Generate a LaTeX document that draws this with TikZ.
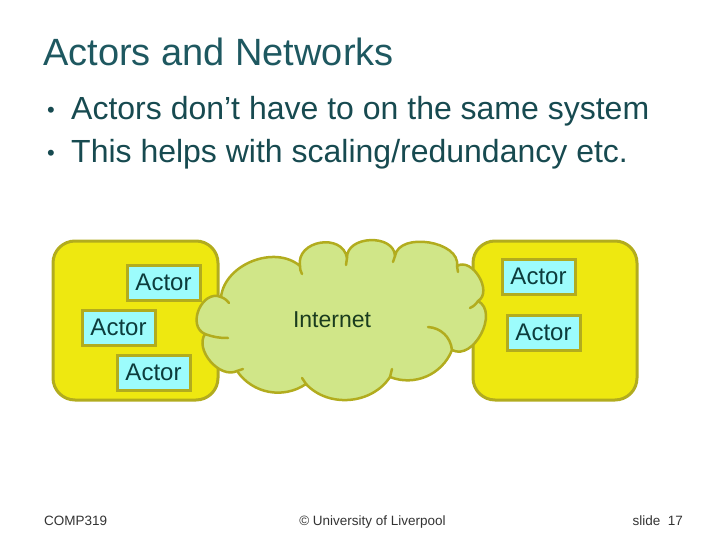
\documentclass[tikz,border=0pt]{standalone}
\usepackage{fontspec}
\setmainfont{Liberation Sans}
\definecolor{titlec}{HTML}{1E5860}
\definecolor{bodyc}{HTML}{174A50}
\definecolor{boxfill}{HTML}{EEE810}
\definecolor{olive}{HTML}{B2AC1E}
\definecolor{cloudfill}{HTML}{D0E688}
\definecolor{actorfill}{HTML}{9CFCFC}
\definecolor{actortext}{HTML}{0C3C3C}
\definecolor{nettext}{HTML}{1A3C1E}
\definecolor{footc}{HTML}{333333}
\tikzset{
  machine/.style={draw=olive, line width=3pt, fill=boxfill, rounded corners=22pt},
  actor/.style={draw=olive, line width=3pt, fill=actorfill, minimum width=73pt, minimum height=35pt, inner sep=0pt, text=actortext, font=\fontsize{24}{26}\selectfont},
  cloudline/.style={draw=olive, line width=2.5pt, fill=cloudfill, line join=round},
  innerarc/.style={draw=olive, line width=2.5pt, line cap=round},
  foot/.style={text=footc, font=\fontsize{13.5}{15}\selectfont, inner sep=0pt},
}
\begin{document}
\begin{tikzpicture}[x=1pt,y=-1pt]
\useasboundingbox (0,0) rectangle (720,540);
% title and bullets
\node[anchor=base west, inner sep=0pt, text=titlec, font=\fontsize{38}{40}\selectfont] (title) at (43,66) {Actors and Networks};
\node[anchor=base west, inner sep=0pt, text=bodyc, font=\fontsize{32}{34}\selectfont] (b1) at (71,120) {Actors don’t have to on the same system};
\node[anchor=base west, inner sep=0pt, text=bodyc, font=\fontsize{32}{34}\selectfont] (b2) at (71,163) {This helps with scaling/redundancy etc.};
\node[anchor=base west, inner sep=0pt, text=bodyc, font=\fontsize{22}{24}\selectfont] (d1) at (47,118) {•};
\node[anchor=base west, inner sep=0pt, text=bodyc, font=\fontsize{22}{24}\selectfont] (d2) at (47,161) {•};
% machines
\path[machine] (53,241) rectangle (218,400);
\path[machine] (473,241) rectangle (637,400);
% cloud
\coordinate (p1) at (221,297);
\coordinate (p2) at (300,266);
\coordinate (p3) at (347,258);
\coordinate (p4) at (395,256);
\coordinate (p5) at (457,266);
\coordinate (p6) at (478,301);
\coordinate (p7) at (452,350);
\coordinate (p8) at (390,377);
\coordinate (p9) at (306,384);
\coordinate (p10) at (237,371);
\coordinate (p11) at (205,334);
\path[cloudline] (p1) to[bend left=62] (p2)
  to[bend left=90, looseness=1.4] (p3)
  to[bend left=90, looseness=1.2] (p4)
  to[bend left=90, looseness=1.02] (p5)
  to[bend left=90, looseness=1.12] (p6)
  to[bend left=90, looseness=1.12] (p7)
  to[bend left=45] (p8)
  to[bend left=52] (p9)
  to[bend left=45] (p10)
  to[bend left=75] (p11)
  to[bend left=90, looseness=1.3] (p1) -- cycle;
% inner arcs
\draw[innerarc] (p1) to[bend left=15] (229,303);
\draw[innerarc] (p11) to[bend right=10] (228,338);
\draw[innerarc] (p2) to[bend right=15] (302,274);
\draw[innerarc] (p3) -- (346,265);
\draw[innerarc] (p4) -- (393,262);
\draw[innerarc] (p5) -- (458,272);
\draw[innerarc] (p6) to[bend left=15] (470,308);
\draw[innerarc] (p7) to[bend right=40] (428,327);
\draw[innerarc] (p8) -- (392,369);
\draw[innerarc] (p9) -- (302,378);
\draw[innerarc] (p10) -- (243,369);
\node[text=nettext, font=\fontsize{23}{25}\selectfont, anchor=base, inner sep=0pt] (net) at (332,327) {Internet};
% actors
\node[actor] (a1) at (163.5,282.5) {Actor};
\node[actor] (a2) at (118.5,327.5) {Actor};
\node[actor] (a3) at (153.5,372.5) {Actor};
\node[actor] (a4) at (538.5,276.5) {Actor};
\node[actor] (a5) at (543.5,332.5) {Actor};
% footer
\node[foot, anchor=base west] (f1) at (44,525) {COMP319};
\node[foot, anchor=base] (f2) at (372.5,525) {© University of Liverpool};
\node[foot, anchor=base east] (f3) at (683,525) {slide\ \ 17};
\end{tikzpicture}
\end{document}
